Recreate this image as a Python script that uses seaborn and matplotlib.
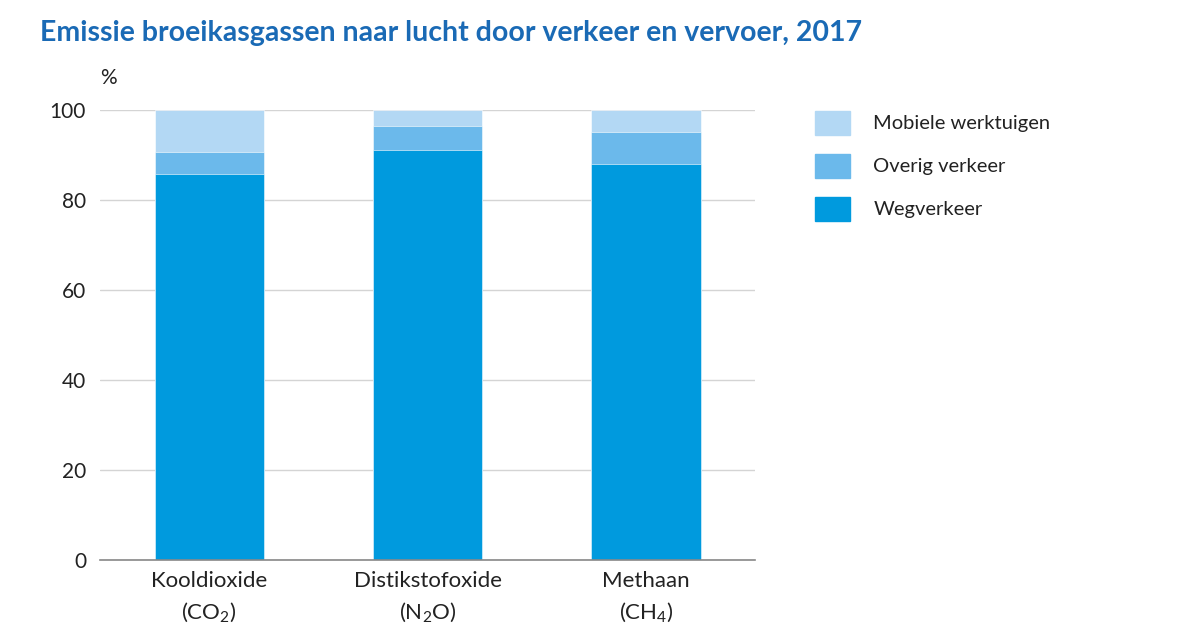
import matplotlib
matplotlib.use("Agg")
import matplotlib.pyplot as plt
import matplotlib.patches as mpatches
import seaborn as sns
import numpy as np
import pandas as pd

# data (% of total emission per gas)
gassen = ["Kooldioxide\n$\\mathregular{(CO_2)}$",
          "Distikstofoxide\n$\\mathregular{(N_2O)}$",
          "Methaan\n$\\mathregular{(CH_4)}$"]
wegverkeer = [85.8, 91.2, 88.1]
overig_verkeer = [5.0, 5.3, 7.0]
mobiele_werktuigen = [9.2, 3.5, 4.9]

kleuren = {"Mobiele werktuigen": "#b3d8f4",
           "Overig verkeer": "#6bb9eb",
           "Wegverkeer": "#009ade"}

sns.set_theme(style="white")
plt.rcParams["font.family"] = ["Lato", "DejaVu Sans"]
plt.rcParams["mathtext.default"] = "regular"

df = pd.DataFrame({"gas": gassen,
                   "Wegverkeer": wegverkeer,
                   "Overig verkeer": overig_verkeer,
                   "Mobiele werktuigen": mobiele_werktuigen})
# stacked bars: draw cumulative totals, tallest first
df["c_weg"] = df["Wegverkeer"]
df["c_overig"] = df["c_weg"] + df["Overig verkeer"]
df["c_mobiel"] = df["c_overig"] + df["Mobiele werktuigen"]

fig = plt.figure(figsize=(12, 6.3), dpi=100)
ax = fig.add_axes([0.0833, 0.111, 0.546, 0.714])

for col, naam in [("c_mobiel", "Mobiele werktuigen"),
                  ("c_overig", "Overig verkeer"),
                  ("c_weg", "Wegverkeer")]:
    sns.barplot(data=df, x="gas", y=col, color=kleuren[naam], width=0.5,
                saturation=1, ax=ax, edgecolor="white", linewidth=0.4)

ax.set_xlim(-0.5, 2.5)
ax.set_ylim(0, 100)
ax.set_yticks([0, 20, 40, 60, 80, 100])
ax.set_xlabel("")
ax.set_ylabel("")
ax.yaxis.grid(True, color="#d4d4d4", linewidth=1)
ax.set_axisbelow(True)
for s in ["top", "right", "left"]:
    ax.spines[s].set_visible(False)
ax.spines["bottom"].set_color("#888888")
ax.spines["bottom"].set_linewidth(1.2)
ax.tick_params(axis="y", length=0, pad=10, labelsize=15, labelcolor="#222222")
ax.tick_params(axis="x", length=0, pad=8, labelsize=16, labelcolor="#222222")
for lab in ax.get_yticklabels():
    lab.set_horizontalalignment("right")
for lab in ax.get_xticklabels():
    lab.set_linespacing(1.5)

fig.text(0.0835, 0.86, "%", fontsize=15, color="#222222", ha="left", va="bottom")
fig.text(0.033, 0.968, "Emissie broeikasgassen naar lucht door verkeer en vervoer, 2017",
         fontsize=20.5, fontweight="bold", color="#1a6ab5", ha="left", va="top")

handles = [mpatches.Patch(color=kleuren[n], label=n)
           for n in ["Mobiele werktuigen", "Overig verkeer", "Wegverkeer"]]
fig.legend(handles=handles, loc="upper left", bbox_to_anchor=(0.664, 0.853),
           frameon=False, fontsize=14.5, handlelength=1.75, handleheight=1.45,
           labelspacing=0.95, handletextpad=1.15, labelcolor="#222222")

fig.savefig("out.png", dpi=100)
